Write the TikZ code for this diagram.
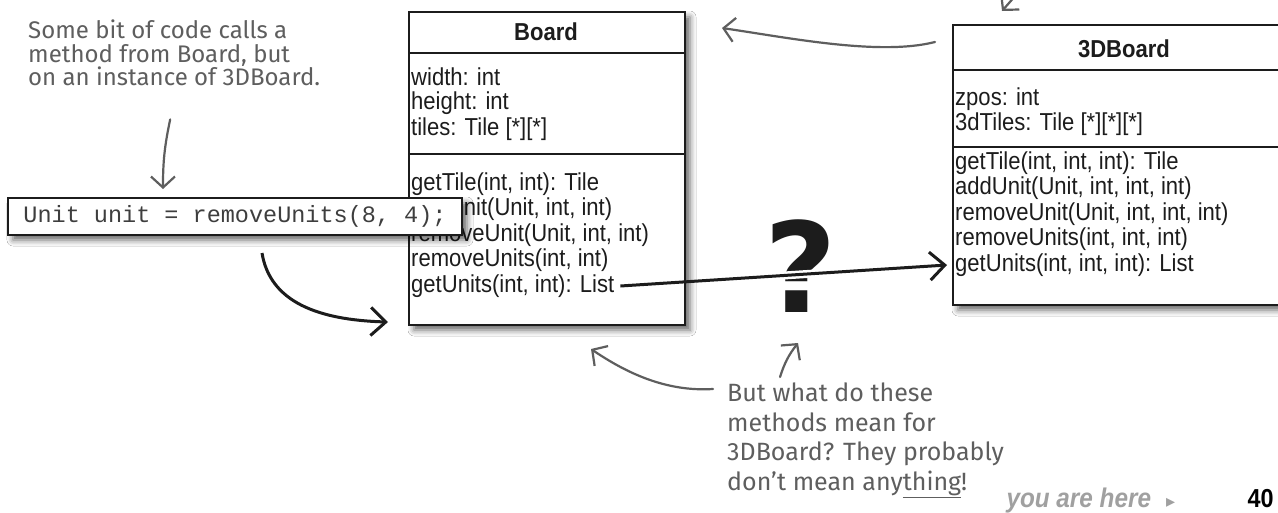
\documentclass[tikz,border=0pt]{standalone}
\usepackage{fontspec}
\setmainfont{Liberation Sans}
\setmonofont{Liberation Mono}
\newfontfamily\umlfont[FakeStretch=0.9]{Liberation Sans}
\newfontfamily\handfont{Fira Sans}
\newfontfamily\symbolfont{DejaVu Sans}
\usetikzlibrary{arrows.meta,shadows.blur,positioning}
\definecolor{ink}{HTML}{1C1C1C}
\definecolor{pen}{HTML}{5E5E5E}
\definecolor{folio}{HTML}{A0A0A0}
\tikzset{
 boxline/.style={draw=ink,line width=2pt},
 classbox/.style={boxline,fill=white,anchor=north west,inner sep=0pt,blur shadow={shadow xshift=5pt,shadow yshift=-5pt,shadow blur radius=6pt,shadow opacity=60}},
 member/.style={anchor=west,inner sep=0pt,text=ink,font=\umlfont\fontsize{24.5}{25}\selectfont},
 classname/.style={text=ink,font=\umlfont\bfseries\fontsize{24.5}{25}\selectfont},
 note/.style={anchor=north west,inner sep=0pt,align=left,text=pen,font=\handfont\fontsize{24}{23.5}\selectfont},
 penarrow/.style={draw=pen,line width=2.2pt,line cap=round,-{Straight Barb[length=11pt,width=24pt]}},
 inkarrow/.style={draw=ink,line width=3pt,-{Straight Barb[length=15pt,width=28pt]}},
}
\begin{document}
\begin{tikzpicture}[x=1pt,y=-1pt]
 \path[use as bounding box,fill=white] (0,0) rectangle (1278,512);
 \node[classbox,minimum width=276pt,minimum height=313pt] (board) at (408,11) {};
 \draw[boxline] ([yshift=-42pt]board.north west) -- ([yshift=-42pt]board.north east);
 \draw[boxline] ([yshift=-143pt]board.north west) -- ([yshift=-143pt]board.north east);
 \node[classname] (boardname) at (546,32) {Board};
 \foreach \txt [count=\i] in {{width: int},{height: int},{tiles: Tile [*][*]}}{\node[member] (battr\i) at (411,51+26*\i) {\txt};}
 \foreach \txt [count=\i] in {{getTile(int, int): Tile},{addUnit(Unit, int, int)},{removeUnit(Unit, int, int)},{removeUnits(int, int)},{getUnits(int, int): List}}{\node[member] (bop\i) at (411,158.5+25.5*\i) {\txt};}
 \node[classbox,minimum width=340pt,minimum height=280pt] (board3d) at (952,24) {};
 \draw[boxline] ([yshift=-46pt]board3d.north west) -- ([yshift=-46pt]board3d.north east);
 \draw[boxline] ([yshift=-123pt]board3d.north west) -- ([yshift=-123pt]board3d.north east);
 \node[classname] (board3dname) at (1124,49) {3DBoard};
 \foreach \txt [count=\i] in {{zpos: int},{3dTiles: Tile [*][*][*]}}{\node[member] (b3attr\i) at (955,73.5+25.5*\i) {\txt};}
 \foreach \txt [count=\i] in {{getTile(int, int, int): Tile},{addUnit(Unit, int, int, int)},{removeUnit(Unit, int, int, int)},{removeUnits(int, int, int)},{getUnits(int, int, int): List}}{\node[member] (b3op\i) at (955,137.5+25.5*\i) {\txt};}
 \node[classbox,anchor=center,minimum width=454pt,minimum height=37pt,font=\ttfamily\fontsize{23.5}{24}\selectfont,text=ink!85] (call) at (235,216.5) {Unit unit = removeUnits(8, 4);};
 \node[note] (callnote) at (28,20) {Some bit of code calls a\\method from Board, but\\on an instance of 3DBoard.};
 \node[note,font=\handfont\fontsize{25}{29.5}\selectfont] (methodnote) at (727,383) {But what do these\\methods mean for\\3DBoard? They probably\\don’t mean any\underline{thing}!};
 \node[text=ink,font=\symbolfont\bfseries\fontsize{125}{125}\selectfont] (qmark) at (801,266) {?};
 \path ([xshift=6pt]bop5.east) -- ([xshift=-8pt]b3op5.west) coordinate[pos=0.45] (gapa) coordinate[pos=0.66] (gapb);
 \draw[white,line width=8pt] (gapa) -- (gapb);
 \draw[inkarrow] ([xshift=6pt]bop5.east) -- ([xshift=-8pt]b3op5.west);
 \draw[inkarrow] ([xshift=27pt,yshift=-17pt]call.south) .. controls (270,302) and (318,320) .. ([xshift=-20pt,yshift=4pt]board.south west);
 \draw[penarrow] ([xshift=-4pt,yshift=-33pt]callnote.south) to[bend right=6] ([xshift=-72pt,yshift=8pt]call.north);
 \draw[penarrow] ([xshift=-17pt,yshift=-18pt]board3d.north west) .. controls (880,56) and (790,38) .. ([xshift=36pt,yshift=-17pt]board.north east);
 \draw[penarrow] ([xshift=-14pt,yshift=-6pt]methodnote.north west) .. controls (665,392) and (625,372) .. ([xshift=44pt,yshift=-23pt]board.south);
 \draw[penarrow] ([xshift=53pt,yshift=6pt]methodnote.north west) to[bend left=10] ([xshift=-3pt,yshift=-77pt]qmark.center);
 \draw[penarrow] ([xshift=78pt,yshift=45pt]board3d.north west) -- ([xshift=50pt,yshift=13pt]board3d.north west);
 \node[anchor=base west,text=folio,font=\umlfont\bfseries\itshape\fontsize{27}{28}\selectfont] (here) at (1003,507) {you are here};
 \node[anchor=base west,text=folio,font=\symbolfont\fontsize{18}{20}\selectfont] (heremark) at ([xshift=8pt]here.base east) {▸};
 \node[anchor=base west,text=black,font=\umlfont\bfseries\fontsize{26}{28}\selectfont] (pageno) at (1244,507) {40};
\end{tikzpicture}
\end{document}
